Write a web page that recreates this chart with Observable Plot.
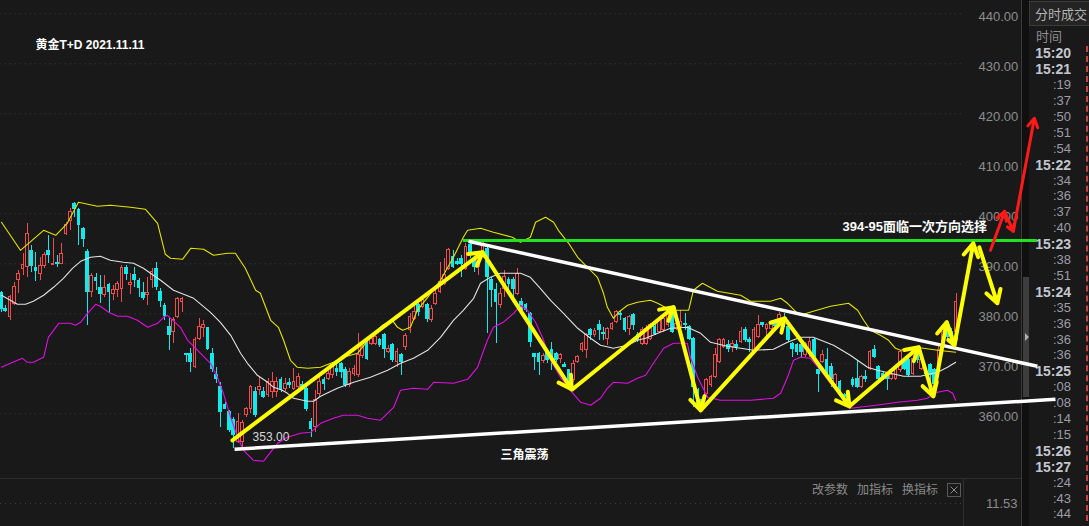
<!DOCTYPE html>
<html><head><meta charset="utf-8">
<script src="https://cdn.jsdelivr.net/npm/d3@7"></script>
<script src="https://cdn.jsdelivr.net/npm/@observablehq/plot@0.6"></script>
<style>
html,body{margin:0;padding:0;background:#191919;overflow:hidden}
#wrap{position:relative;width:1089px;height:526px;background:#191919;font-family:"Liberation Sans","Noto Sans CJK SC",sans-serif;overflow:hidden}
#chart{position:absolute;left:0;top:0;z-index:2}
.ui{position:absolute;z-index:1;white-space:nowrap}
</style></head><body>
<div id="wrap"><div id="chart"></div></div>
<script>
// ---------- data ----------
const titleText = "黄金T+D 2021.11.11";
const noteText = "394-95面临一次方向选择";
const patternText = "三角震荡";
const lowLabel = "353.00";
const priceTicks = [360,370,380,390,400,410,420,430,440];

const candleOpen = [
384.1,381.0,379.3,382.0,386.7,388.9,389.3,392.5,389.1,388.0,
389.5,392.5,389.7,390.2,390.0,396.0,398.5,402.0,400.7,397.0,
392.3,384.3,387.2,385.2,383.7,385.7,384.0,384.7,385.0,389.2,
385.8,387.8,386.5,384.2,383.7,386.7,388.9,384.3,381.5,377.3,
376.3,379.3,382.3,372.0,372.0,369.3,375.0,377.2,377.2,372.0,
367.7,365.3,361.7,360.3,358.7,354.3,354.3,359.7,361.0,364.3,
364.7,364.3,363.7,364.3,364.3,366.7,365.0,366.2,365.0,365.3,
365.7,365.0,358.3,357.3,364.0,366.7,367.0,367.7,369.0,370.0,
368.7,365.7,368.0,367.7,371.5,374.7,374.0,374.0,374.7,375.7,
372.3,373.7,370.3,371.7,373.3,376.7,379.0,381.7,381.3,381.7,
378.7,382.0,384.3,386.0,389.0,391.3,390.3,391.0,389.0,393.7,
390.7,389.3,391.3,393.0,386.7,384.7,381.7,385.0,386.7,386.7,
384.0,382.3,381.7,380.0,372.0,372.0,370.5,372.1,372.7,372.0,
371.0,369.7,368.7,366.7,370.3,372.7,372.7,376.7,375.7,377.7,
376.2,375.0,377.0,378.3,380.0,379.0,377.0,379.7,375.7,374.0,
374.0,375.0,377.3,376.3,376.7,377.7,380.0,377.0,377.3,378.0,
377.3,375.0,364.7,362.7,364.0,365.7,367.3,370.3,373.3,373.7,
373.3,373.7,374.3,376.7,374.7,372.3,375.3,378.1,377.0,377.0,
378.0,378.0,379.0,377.3,374.0,373.7,373.7,371.7,372.7,374.7,
368.7,370.3,370.7,369.3,365.7,366.3,363.7,364.0,366.7,367.0,
365.3,367.3,369.0,372.7,369.3,368.0,367.7,367.0,367.0,368.7,
370.7,370.7,368.0,372.0,369.0,368.7,369.7,368.7,368.3,374.0,
377.3,376.3,376.3];
const candleClose = [
381.0,380.5,383.3,385.3,388.0,389.8,396.0,389.5,388.5,389.5,
391.7,391.7,390.0,390.0,392.0,397.7,400.3,401.0,397.7,395.0,
384.3,387.5,386.5,383.9,385.2,384.3,384.7,385.9,389.2,387.9,
386.2,386.8,385.1,383.2,384.1,388.3,385.3,382.5,379.5,375.7,
378.7,383.0,383.0,371.7,370.3,374.7,377.3,377.7,373.0,369.0,
367.0,360.3,361.0,356.7,355.7,358.3,358.1,361.0,365.3,359.7,
365.3,363.3,366.3,366.3,366.3,365.0,366.0,365.7,366.3,367.3,
365.0,361.0,357.0,362.7,366.3,366.0,368.0,369.7,368.3,368.3,
365.7,368.3,369.0,371.7,373.3,371.0,375.0,375.3,373.7,373.0,
373.0,370.7,372.3,370.3,375.5,379.3,380.3,380.3,382.7,379.0,
381.0,384.0,386.3,387.7,392.7,389.3,390.0,390.0,393.3,391.7,
389.3,391.3,394.0,387.3,384.7,382.3,384.0,387.3,386.0,385.0,
388.0,380.7,380.7,374.3,371.3,370.3,371.5,370.7,371.0,370.7,
371.7,369.3,366.3,370.0,371.3,374.0,375.7,375.7,376.5,376.7,
375.9,377.0,378.0,380.3,379.7,376.7,379.3,377.7,374.7,376.7,
377.0,377.7,376.0,378.7,379.0,379.7,376.3,378.0,378.3,377.7,
375.0,365.3,362.0,361.0,366.7,367.3,371.7,374.7,374.7,373.0,
374.0,373.3,376.3,374.7,374.3,376.7,377.7,377.7,377.8,378.3,
377.6,379.7,378.0,374.7,373.0,372.3,372.3,374.0,374.3,371.3,
368.0,371.7,367.7,367.0,367.7,364.3,363.3,363.0,365.7,365.3,
367.3,367.0,372.3,371.3,367.0,367.0,367.0,367.7,369.3,372.3,
369.0,367.7,371.0,370.7,370.7,368.0,367.7,366.0,372.7,376.3,
375.3,375.7,382.3];
const candleHigh = [
384.5,381.7,383.7,386.3,388.7,392.0,398.0,393.7,392.3,391.3,
392.3,395.7,395.0,391.7,394.0,398.3,401.0,402.3,401.0,397.3,
392.8,388.0,388.0,387.7,387.7,386.0,385.7,386.5,389.7,389.7,
388.0,389.2,387.0,386.3,387.2,389.0,390.3,385.0,382.0,379.0,
379.3,383.3,383.3,372.0,373.0,375.3,379.0,378.7,377.3,373.0,
369.3,366.3,362.3,360.7,359.3,360.0,358.7,361.3,365.7,365.3,
367.3,365.3,367.0,368.3,367.3,367.3,367.0,367.0,369.0,368.0,
366.5,365.5,359.0,364.7,367.3,367.3,369.0,370.3,370.0,370.3,
369.3,369.0,369.7,376.0,374.0,375.0,375.3,375.7,375.0,376.0,
373.7,374.0,373.0,372.0,376.0,380.0,381.7,382.0,383.3,382.0,
381.7,384.7,390.3,391.0,393.0,392.7,391.0,391.7,394.0,394.0,
391.0,392.0,394.3,393.3,387.3,386.0,385.0,388.7,387.3,387.3,
389.0,383.0,382.0,380.3,372.0,372.3,372.0,372.7,374.3,372.3,
372.0,370.3,368.8,370.7,371.7,374.3,376.0,377.0,377.0,378.7,
377.3,377.3,378.3,380.7,380.7,379.3,379.7,380.0,376.3,377.3,
377.7,378.0,378.0,379.0,379.3,380.0,380.3,378.3,380.7,380.0,
377.7,375.3,365.0,363.0,367.0,367.7,373.0,375.0,375.0,374.7,
374.7,374.7,377.3,377.3,375.3,377.3,379.7,378.3,378.0,378.7,
378.3,380.3,380.0,377.7,374.3,374.0,374.7,374.3,375.3,375.0,
369.3,372.7,373.0,370.0,368.0,366.7,364.0,364.3,367.3,370.7,
367.7,368.7,372.7,373.7,369.7,368.3,368.3,368.0,369.7,372.7,
371.0,371.0,372.3,372.3,371.0,369.0,370.0,369.0,373.7,376.7,
377.7,377.0,384.0];
const candleLow = [
380.3,380.2,378.7,381.7,384.0,387.7,387.3,388.3,386.5,386.7,
389.0,390.0,389.7,389.2,389.9,395.7,396.7,399.3,393.7,393.3,
377.7,383.3,384.7,382.0,383.3,380.3,382.7,383.3,382.3,386.7,
383.9,385.3,383.3,382.7,381.7,385.0,384.7,381.3,378.7,372.7,
374.0,379.0,380.3,370.3,368.3,369.0,374.7,375.3,372.7,368.3,
366.0,357.3,361.0,356.3,353.0,354.0,353.3,359.3,360.0,359.3,
363.7,363.0,363.3,363.0,363.3,364.3,364.5,365.0,364.7,364.7,
364.7,360.5,355.3,356.3,363.3,364.7,366.7,367.0,367.5,367.0,
365.3,365.3,367.5,367.3,371.0,370.7,373.7,373.7,373.3,371.0,
372.0,370.3,369.3,367.7,372.7,376.0,378.7,379.5,381.0,378.3,
378.3,381.7,384.0,385.7,388.7,389.0,389.7,387.3,388.7,391.0,
388.3,387.7,391.0,376.0,381.3,374.0,381.0,383.3,383.7,383.3,
383.7,380.0,380.3,373.3,368.7,367.7,370.0,370.0,368.7,370.3,
370.0,369.3,366.0,366.3,370.0,372.3,371.0,374.7,375.3,374.7,
374.7,373.7,376.7,378.0,378.7,376.3,375.7,376.7,374.3,373.7,
373.7,374.7,375.7,376.0,376.3,377.3,376.0,376.7,377.0,376.7,
374.7,361.3,361.3,360.5,363.7,365.3,367.0,370.0,373.0,372.3,
372.3,372.7,374.0,374.3,372.3,372.0,375.0,377.3,375.0,376.7,
377.0,377.7,377.3,374.3,371.3,371.7,371.3,371.3,371.3,370.7,
364.3,370.0,367.3,365.3,365.3,364.0,363.0,361.0,365.3,365.0,
365.0,366.3,368.7,371.0,366.7,366.7,364.7,366.7,366.7,368.3,
368.7,367.3,367.7,370.0,368.7,367.7,365.3,365.7,368.0,373.7,
375.0,374.7,375.7];

// Bollinger band readings (candle index, price)
const upperIdx = [0,4.4,9.8,12.6,15.3,17.9,22.3,25.3,30.0,33.5,36.3,38.1,39.3,42.1,44.0,47.0,49.3,52.6,54.4,56.7,59.1,60.2,62.6,64.4,65.6,67.2,68.8,71.2,74.2,77.2,79.5,82.8,86.5,88.6,90.9,92.1,93.3,95.1,96.7,99.1,102.1,105.1,107.4,108.4,111.4,114.4,118.8,120.7,123.0,124.2,126.5,128.4,129.5,131.9,134.0,136.3,138.6,140.0,140.9,142.3,143.5,145.6,147.9,150.9,152.6,155.6,159.8,160.9,163.0,166.5,171.9,174.2,178.8,181.2,182.8,185.1,185.8,188.8,192.8,197.0,199.1,200.5,202.1,204.4,206.3,207.9,209.1,212.1,214.4,217.7,221.9];
const upperVal = [398.3,392.7,396.7,395.7,398.1,402.3,401.5,401.7,401.3,400.9,398.1,391.9,391.1,390.9,393.1,392.9,391.7,392.1,392.1,389.1,384.7,384.1,378.7,377.3,374.7,370.7,369.3,369.1,369.3,370.3,371.3,372.1,376.1,377.7,378.7,377.3,376.7,377.3,380.7,383.3,386.7,391.3,395.3,396.7,397.1,396.3,395.3,394.3,395.3,398.3,399.3,398.3,396.7,394.1,391.3,389.3,387.3,384.1,381.3,379.1,380.3,381.7,382.3,382.7,382.1,380.7,380.7,384.7,386.1,384.5,383.7,382.5,382.5,383.1,382.1,380.1,379.7,380.5,381.5,382.1,380.7,378.7,376.7,375.7,374.7,373.1,372.7,373.3,373.1,372.7,372.3];
const midIdx = [0,3.7,5.6,7.4,9.8,12.1,14.4,16.5,18.4,20.7,23.0,25.3,28.4,30.7,33.0,35.3,37.0,40.0,44.7,48.6,50.9,53.3,55.6,57.2,59.5,61.9,63.3,65.3,66.5,67.9,71.2,72.6,74.2,78.1,81.9,85.8,89.8,92.8,95.8,99.1,102.1,105.1,107.4,109.8,111.4,113.7,116.0,119.1,120.7,123.0,125.3,127.7,130.7,134.0,137.0,139.3,142.3,145.6,147.9,149.8,152.6,155.6,159.5,162.6,164.9,168.8,171.9,174.9,179.5,182.8,185.8,188.8,193.5,197.4,201.4,203.7,206.7,209.8,213.7,217.7,220.0,221.9];
const midVal = [383.7,381.9,381.9,382.5,383.7,385.3,387.1,389.1,390.5,391.3,391.5,390.7,390.3,390.1,389.1,387.7,386.7,384.7,383.1,380.3,378.3,375.7,372.1,370.1,367.7,366.3,365.3,364.7,364.1,363.1,362.5,362.5,363.5,365.1,366.3,367.3,368.7,370.1,371.1,372.7,375.3,378.7,380.7,383.1,386.1,387.3,388.1,388.1,388.1,387.3,385.1,382.7,380.1,377.1,375.1,373.7,373.1,373.7,374.7,375.1,376.1,377.1,377.3,376.1,374.3,373.5,373.1,372.7,372.9,374.3,375.3,375.3,373.7,371.7,369.3,368.7,368.1,367.5,367.5,368.3,369.3,370.3];
const lowerIdx = [0,2.1,3.7,4.9,6.0,7.4,9.8,10.9,13.3,16.0,17.2,18.4,20.0,21.9,23.0,24.9,27.0,29.3,31.6,34.0,36.3,37.7,38.6,41.6,43.3,46.3,48.6,50.2,51.6,53.3,54.9,56.3,58.6,60.9,64.2,66.5,69.5,71.9,74.2,77.2,79.5,82.8,85.1,88.1,91.2,92.8,95.8,99.1,100.5,105.1,108.4,110.7,113.0,114.4,116.7,119.1,120.7,122.3,124.2,125.8,127.7,130.0,132.3,134.7,137.0,139.3,140.9,142.3,145.6,147.9,149.8,151.6,154.0,156.3,159.5,160.2,161.9,164.2,167.2,174.2,179.5,181.2,182.8,184.2,185.8,188.1,190.5,192.8,195.1,197.4,201.4,205.1,208.4,213.0,215.3,217.7,220.0,221.2,221.9];
const lowerVal = [369.3,370.1,370.7,371.1,370.3,370.3,371.3,375.3,378.1,378.1,377.7,378.3,380.1,381.9,381.5,380.3,379.5,379.5,378.7,377.3,378.1,379.3,379.7,377.3,374.7,372.1,370.1,367.3,364.1,359.3,355.3,352.7,350.7,350.5,354.1,355.3,356.1,356.3,358.1,359.1,359.7,359.7,359.1,358.7,361.3,364.7,365.1,364.9,366.3,366.1,366.9,369.3,374.7,377.3,378.3,380.1,381.7,380.7,378.3,375.3,370.7,367.3,364.7,362.3,361.7,363.1,365.1,366.3,366.1,367.1,367.7,370.1,373.1,374.1,374.1,371.3,367.3,363.3,362.7,362.7,363.1,364.1,367.3,370.7,371.3,371.1,368.7,366.1,363.7,361.1,361.5,361.9,362.3,362.7,363.1,364.3,364.7,364.1,362.7];

// Hand-drawn annotations (candle index, price)
const yellowX1 = [53.7,111.9,132.8,156.3,162.6,182.1,197.2,213.3,216.7,219.8,221.6,227.4];
const yellowY1 = [354.7,392.3,364.9,381.3,360.7,379.1,361.5,373.3,363.5,378.3,373.7,393.3];
const yellowX2 = [111.9,132.6,156.3,162.6,182.1,197.2,213.3,216.7,219.8,221.6,226.0,231.6];
const yellowY2 = [392.3,364.9,381.3,360.7,379.1,361.5,373.3,363.5,378.3,373.7,394.1,382.1];
const redX1 = [230.0,233.3,235.3];
const redY1 = [392.7,400.5,396.5];
const redX2 = [233.3,235.3,240.2];
const redY2 = [400.5,396.5,419.1];
const trendX1 = [108.6,54.2];
const trendY1 = [394.5,352.9];
const trendX2 = [240.9,245.1];
const trendY2 = [369.5,362.9];
const greenLevel = 394.66;
const greenFrom = 107.4, greenTo = 240.9;

// side panel texts
const tradeTimes = ["15:20","15:21",":19",":37",":50",":51",":54","15:22",":34",":36",":37",":40","15:23",":38",":51","15:24",":35",":36",":36",":36","15:25",":08",":08",":14",":15","15:26","15:27",":24",":43",":44"];
const toolbarItems = ["改参数","加指标","换指标"];
const volumeLabel = "11.53";
const panelTitle = "分时成交";
const timeHeader = "时间";

// ---------- build ----------
const RED = "#f24c4c", CYAN = "#14e8e8", BG = "#191919";
const candles = candleOpen.map((o, i) => ({i, o, c: candleClose[i], h: candleHigh[i], l: candleLow[i], up: candleClose[i] >= o}));
const toPts = (xs, ys) => xs.map((x, k) => ({x, y: ys[k]}));
const upper = toPts(upperIdx, upperVal), mid = toPts(midIdx, midVal), lower = toPts(lowerIdx, lowerVal);
const yArrows = yellowX1.map((x, k) => ({x1: x, y1: yellowY1[k], x2: yellowX2[k], y2: yellowY2[k]}));
const rArrows = redX1.map((x, k) => ({x1: x, y1: redY1[k], x2: redX2[k], y2: redY2[k]}));
const trends = trendX1.map((x, k) => ({x1: x, y1: trendY1[k], x2: trendX2[k], y2: trendY2[k]}));

const plot = Plot.plot({
  width: 1089, height: 526,
  marginLeft: 0, marginTop: 0, marginBottom: 0, marginRight: 114,
  style: {background: "transparent", fontFamily: '"Liberation Sans","Noto Sans CJK SC",sans-serif', fontSize: "13px", overflow: "visible"},
  x: {type: "linear", domain: [0, 222], range: [1, 955.6], axis: null},
  y: {type: "linear", domain: [360, 440], range: [413.3, 13.3], axis: null},
  color: {type: "identity"},
  marks: [
    Plot.ruleY(priceTicks, {y: d => d, x1: -0.3, x2: 223.7, stroke: "#3e3e3e", strokeDasharray: "1,4"}),
    Plot.axisY(priceTicks, {anchor: "right", tickSize: 0, tickPadding: 3, tickFormat: d => d.toFixed(2), color: "#8d8d8d", fontSize: 13, dy: 3, label: null}),
    Plot.ruleX(candles, {x: "i", y1: "l", y2: "h", stroke: d => d.up ? RED : CYAN, strokeWidth: 1, shapeRendering: "crispEdges"}),
    Plot.rect(candles, {x1: d => d.i - 0.32, x2: d => d.i + 0.32, y1: "o", y2: "c", fill: d => d.up ? BG : CYAN, stroke: d => d.up ? RED : CYAN, strokeWidth: 1, shapeRendering: "crispEdges"}),
    Plot.line(upper, {x: "x", y: "y", stroke: "#e4e400", strokeWidth: 1.1}),
    Plot.line(mid, {x: "x", y: "y", stroke: "#e2e2e2", strokeWidth: 1.1}),
    Plot.line(lower, {x: "x", y: "y", stroke: "#e010e0", strokeWidth: 1.1}),
    Plot.ruleY([greenLevel], {y: d => d, x1: greenFrom, x2: greenTo, stroke: "#22e022", strokeWidth: 3}),
    Plot.link(trends, {x1: "x1", y1: "y1", x2: "x2", y2: "y2", stroke: "#ffffff", strokeWidth: 3.5}),
    Plot.arrow(yArrows, {x1: "x1", y1: "y1", x2: "x2", y2: "y2", stroke: "#ffff00", strokeWidth: 4, headLength: 5.5, headAngle: 60}),
    Plot.arrow(rArrows, {x1: "x1", y1: "y1", x2: "x2", y2: "y2", stroke: "#ff1a1a", strokeWidth: 3, headLength: 5, headAngle: 60}),
    Plot.text([titleText], {x: 7.9, y: 433.7, text: d => d, fill: "#ffffff", fontSize: 12, fontWeight: "bold", textAnchor: "start"}),
    Plot.text([noteText], {x: 195.6, y: 397.3, text: d => d, fill: "#ffffff", fontSize: 13, fontWeight: "bold", textAnchor: "start"}),
    Plot.text([patternText], {x: 121.6, y: 351.7, text: d => d, fill: "#ffffff", fontSize: 12, fontWeight: "bold", textAnchor: "middle"}),
    Plot.text([lowLabel], {x: 58.4, y: 355.3, text: d => d, fill: "#d8d8d8", fontSize: 12, textAnchor: "start"})
  ]
});
document.getElementById("chart").appendChild(plot);

// ---------- panel chrome (behind the svg) ----------
const wrap = document.getElementById("wrap");
function ui(style, html) {
  const d = document.createElement("div");
  d.className = "ui";
  d.setAttribute("style", style);
  if (html !== undefined) d.innerHTML = html;
  wrap.appendChild(d);
  return d;
}
ui("left:0;top:478px;width:1022px;height:1px;background:#2e2e2e");
ui("left:963px;top:478px;width:1px;height:48px;background:#2e2e2e");
ui("left:0;top:503px;width:963px;height:1px;background:repeating-linear-gradient(to right,#3e3e3e 0 1px,transparent 1px 5px)");
ui("left:1021px;top:0;width:1px;height:526px;background:#3a3a3a");
ui("left:1022px;top:0;width:7px;height:526px;background:#101010");
ui("left:1023px;top:277px;width:6px;height:120px;background:#3d3d3d");
ui("left:1025px;top:333px;width:0;height:0;border-top:4px solid transparent;border-bottom:4px solid transparent;border-left:4px solid #b0b0b0");
ui("left:1029px;top:1px;width:64px;height:25px;background:#242424;border:1px solid #3c3c3c;color:#b4b4b4;font-size:13px;line-height:25px;padding-left:5px;box-sizing:border-box", panelTitle);
ui("left:1036px;top:29px;font-size:13px;line-height:16px;color:#8e8e8e", timeHeader);
tradeTimes.forEach((t, k) => {
  const bold = t.length > 3;
  const cy = 53.3 + 15.9 * k;
  ui(`left:1025px;top:${cy - 8}px;width:46px;height:16px;line-height:16px;text-align:right;font-size:${bold ? 14 : 13}px;font-weight:${bold ? "bold" : "normal"};color:${bold ? "#c2c6d0" : "#9a9ea8"}`, t);
});
ui("left:1086px;top:46px;width:0;height:475px;border-left:2px dashed #c84444");
const toolX = [812, 857, 902];
toolbarItems.forEach((t, k) => ui(`left:${toolX[k]}px;top:482px;font-size:12px;line-height:17px;color:#8a8a8a`, t));
ui("left:947px;top:483px;width:14px;height:14px;border:1px solid #5a5a5a;box-sizing:border-box",
   '<svg width="12" height="12" style="display:block"><path d="M2.5 2.5L9.5 9.5M9.5 2.5L2.5 9.5" stroke="#8a8a8a" stroke-width="1"/></svg>');
ui("left:986px;top:496px;font-size:13px;line-height:16px;color:#8d8d8d", volumeLabel);
</script>
</body></html>
